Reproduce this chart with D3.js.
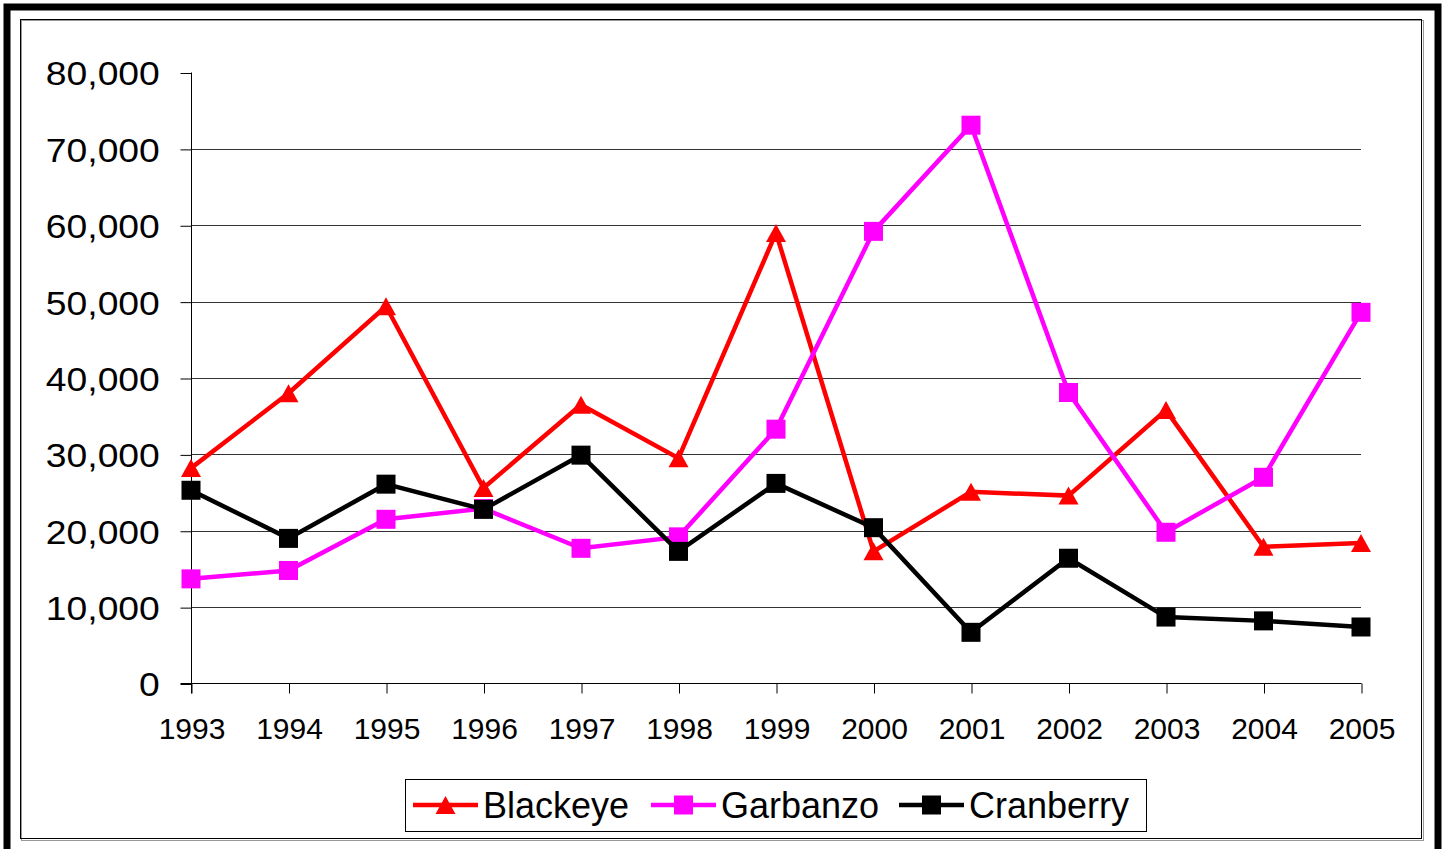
<!DOCTYPE html>
<html>
<head>
<meta charset="utf-8">
<script src="https://cdn.jsdelivr.net/npm/d3@7"></script>
<style>
body { margin: 0; background: #fff; }
svg { display: block; font-family: "Liberation Sans", Arial, sans-serif; }
</style>
</head>
<body>
<div id="chart"></div>
<script>
var years = [1993, 1994, 1995, 1996, 1997, 1998, 1999, 2000, 2001, 2002, 2003, 2004, 2005];
var blackeye = [28200, 38000, 49400, 25600, 36500, 29500, 59000, 17300, 25100, 24600, 35800, 17900, 18400];
var garbanzo = [13700, 14800, 21500, 22900, 17700, 19200, 33300, 59200, 73100, 38100, 19800, 27000, 48600];
var cranberry = [25300, 19000, 26100, 22800, 29900, 17300, 26200, 20400, 6700, 16400, 8700, 8200, 7400];
var yTicks = [0, 10000, 20000, 30000, 40000, 50000, 60000, 70000, 80000];

var series = [
    {name: "Blackeye", values: blackeye, color: "#ff0000", marker: "triangle"},
    {name: "Garbanzo", values: garbanzo, color: "#ff00ff", marker: "square"},
    {name: "Cranberry", values: cranberry, color: "#000000", marker: "square"}
];

var width = 1447, height = 849;

var svg = d3.select("#chart")
    .append("svg")
    .attr("width", width)
    .attr("height", height);

// frames
svg.append("rect")
    .attr("x", 7).attr("y", 7)
    .attr("width", 1431).attr("height", 860)
    .attr("fill", "none")
    .attr("stroke", "#000")
    .attr("stroke-width", 7);
svg.append("rect")
    .attr("x", 21.5).attr("y", 20.5)
    .attr("width", 1402).attr("height", 820)
    .attr("fill", "none")
    .attr("stroke", "#999")
    .attr("stroke-width", 1);
svg.append("rect")
    .attr("x", 20.5).attr("y", 19.5)
    .attr("width", 1401).attr("height", 819)
    .attr("fill", "none")
    .attr("stroke", "#000")
    .attr("stroke-width", 1);

var x = d3.scaleLinear()
    .domain([1993, 2005])
    .range([191, 1361]);

var y = d3.scaleLinear()
    .domain([0, 80000])
    .range([683.5, 72.5]);

// gridlines
svg.append("g")
    .selectAll("line")
    .data(yTicks.filter(d => d > 0 && d < 80000))
    .enter()
    .append("line")
    .attr("x1", 191).attr("x2", 1361)
    .attr("y1", d => Math.round(y(d)) + 0.5)
    .attr("y2", d => Math.round(y(d)) + 0.5)
    .attr("stroke", "#333")
    .attr("stroke-width", 1);

// y axis
var yAxis = svg.append("g")
    .attr("transform", "translate(191.5,0.5)")
    .call(d3.axisLeft(y).tickValues(yTicks).tickFormat(d3.format(",")).tickSize(11).tickPadding(17).tickSizeOuter(0));
yAxis.select(".domain").attr("stroke", "#000").attr("d", "M0,72V693");
yAxis.selectAll("text")
    .attr("font-size", "33px")
    .attr("fill", "#000")
    .attr("font-family", "Liberation Sans, Arial, sans-serif")
    .attr("transform", "scale(1.13,1)")
    .attr("dy", "0.36em");

// x axis
var xAxis = svg.append("g")
    .attr("transform", "translate(0.5,683.5)")
    .call(d3.axisBottom(x).tickValues(years).tickFormat(d3.format("d")).tickSize(10).tickPadding(24).tickSizeOuter(0));
xAxis.select(".domain").attr("stroke", "#000").attr("d", "M180,0H1361");
xAxis.selectAll("text")
    .attr("font-size", "30px")
    .attr("fill", "#000")
    .attr("font-family", "Liberation Sans, Arial, sans-serif");

// lines
var line = d3.line()
    .x((d, i) => x(years[i]))
    .y(d => y(d));

// Excel-style triangle: a bit wider than tall
var excelTriangle = {
    draw: function(context, size) {
        var w = 10, h = 9;
        context.moveTo(0, -h);
        context.lineTo(w, h);
        context.lineTo(-w, h);
        context.closePath();
    }
};
var tri = d3.symbol().type(excelTriangle);

series.forEach(function(s) {
    svg.append("path")
        .datum(s.values)
        .attr("d", line)
        .attr("fill", "none")
        .attr("stroke", s.color)
        .attr("stroke-width", 4.5)
        .attr("stroke-linejoin", "miter");

    var g = svg.append("g");
    if (s.marker === "triangle") {
        g.selectAll("path")
            .data(s.values)
            .enter()
            .append("path")
            .attr("d", tri)
            .attr("transform", (d, i) => `translate(${x(years[i])},${y(d)})`)
            .attr("fill", s.color);
    } else {
        g.selectAll("rect")
            .data(s.values)
            .enter()
            .append("rect")
            .attr("x", (d, i) => x(years[i]) - 9.5)
            .attr("y", d => y(d) - 9.5)
            .attr("width", 19)
            .attr("height", 19)
            .attr("fill", s.color);
    }
});

// legend
var legend = svg.append("g");
legend.append("rect")
    .attr("x", 405.5).attr("y", 779.5)
    .attr("width", 741).attr("height", 52)
    .attr("fill", "#fff")
    .attr("stroke", "#000");

var legendX = [413, 651, 899];
series.forEach(function(s, i) {
    var lx = legendX[i];
    legend.append("line")
        .attr("x1", lx).attr("x2", lx + 65)
        .attr("y1", 805).attr("y2", 805)
        .attr("stroke", s.color)
        .attr("stroke-width", 4.5);
    if (s.marker === "triangle") {
        legend.append("path")
            .attr("d", tri)
            .attr("transform", `translate(${lx + 32.5},${805})`)
            .attr("fill", s.color);
    } else {
        legend.append("rect")
            .attr("x", lx + 23).attr("y", 795.5)
            .attr("width", 19).attr("height", 19)
            .attr("fill", s.color);
    }
    legend.append("text")
        .attr("x", lx + 70)
        .attr("y", 818)
        .attr("font-size", "36px")
        .attr("fill", "#000")
        .text(s.name);
});
</script>
</body>
</html>
